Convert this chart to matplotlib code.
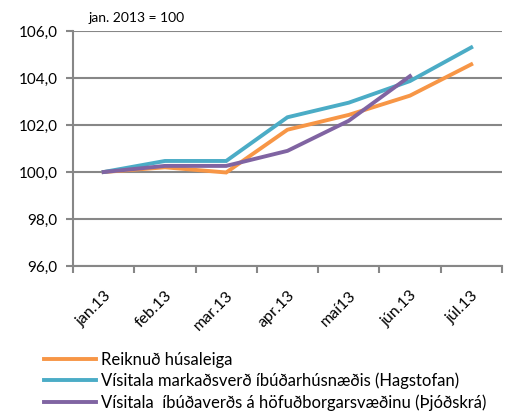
import matplotlib.pyplot as plt
import numpy as np

plt.rcParams['font.family'] = ['Lato', 'DejaVu Sans']

# data
months = ['jan.13', 'feb.13', 'mar.13', 'apr.13', 'maí13', 'jún.13', 'júl.13']
husaleiga = [100.0, 100.2, 99.98, 101.8, 102.43, 103.25, 104.58]
hagstofan = [100.0, 100.47, 100.47, 102.33, 102.95, 103.87, 105.3]
thjodskra = [100.0, 100.26, 100.26, 100.9, 102.18, 104.08]

labels = ['Reiknuð húsaleiga',
          'Vísitala markaðsverð íbúðarhúsnæðis (Hagstofan)',
          'Vísitala  íbúðaverðs á höfuðborgarsvæðinu (Þjóðskrá)']
colors = ['#F79646', '#4BACC6', '#8064A2']
grid_col = '#878787'

fig = plt.figure(figsize=(5.19, 4.18), dpi=100)
ax = fig.add_axes([0.1407, 0.3636, 0.8263, 0.5622])

x = np.arange(len(months))
ax.plot(x, husaleiga, color=colors[0], lw=2.8, label=labels[0], solid_joinstyle='miter')
ax.plot(x, hagstofan, color=colors[1], lw=2.8, label=labels[1], solid_joinstyle='miter')
ax.plot(x[:len(thjodskra)], thjodskra, color=colors[2], lw=2.8, label=labels[2], solid_joinstyle='miter')

ax.set_xlim(-0.5, len(months) - 0.5)
ax.set_ylim(96, 106)
ax.set_yticks(np.arange(96, 106.1, 2))
ax.set_yticklabels([f'{v:.1f}'.replace('.', ',') for v in np.arange(96, 106.1, 2)], fontsize=11)
ax.yaxis.grid(True, color=grid_col, lw=1.5)
ax.set_axisbelow(True)

# ticks on boundaries, labels in the middle
ax.set_xticks(np.arange(-0.5, len(months), 1))
ax.set_xticklabels([])
ax.set_xticks(x, minor=True)
ax.set_xticklabels(months, minor=True, rotation=45, ha='right', rotation_mode='anchor', fontsize=11.5)
ax.tick_params(axis='x', which='major', length=5, color=grid_col, width=1.5)
ax.tick_params(axis='x', which='minor', length=0, pad=16)
ax.tick_params(axis='y', length=5, color=grid_col, width=1.5, pad=6)

for s in ['top', 'right']:
    ax.spines[s].set_visible(False)
for s in ['left', 'bottom']:
    ax.spines[s].set_color(grid_col)
    ax.spines[s].set_linewidth(1.5)

fig.text(0.17, 0.957, 'jan. 2013 = 100', fontsize=10, va='center', ha='left')

fig.legend(loc='upper left', bbox_to_anchor=(0.072, 0.175), frameon=False, fontsize=12,
           handlelength=3.1, handletextpad=0.3, labelspacing=0.3, borderaxespad=0)

fig.savefig('out.png', dpi=100)
